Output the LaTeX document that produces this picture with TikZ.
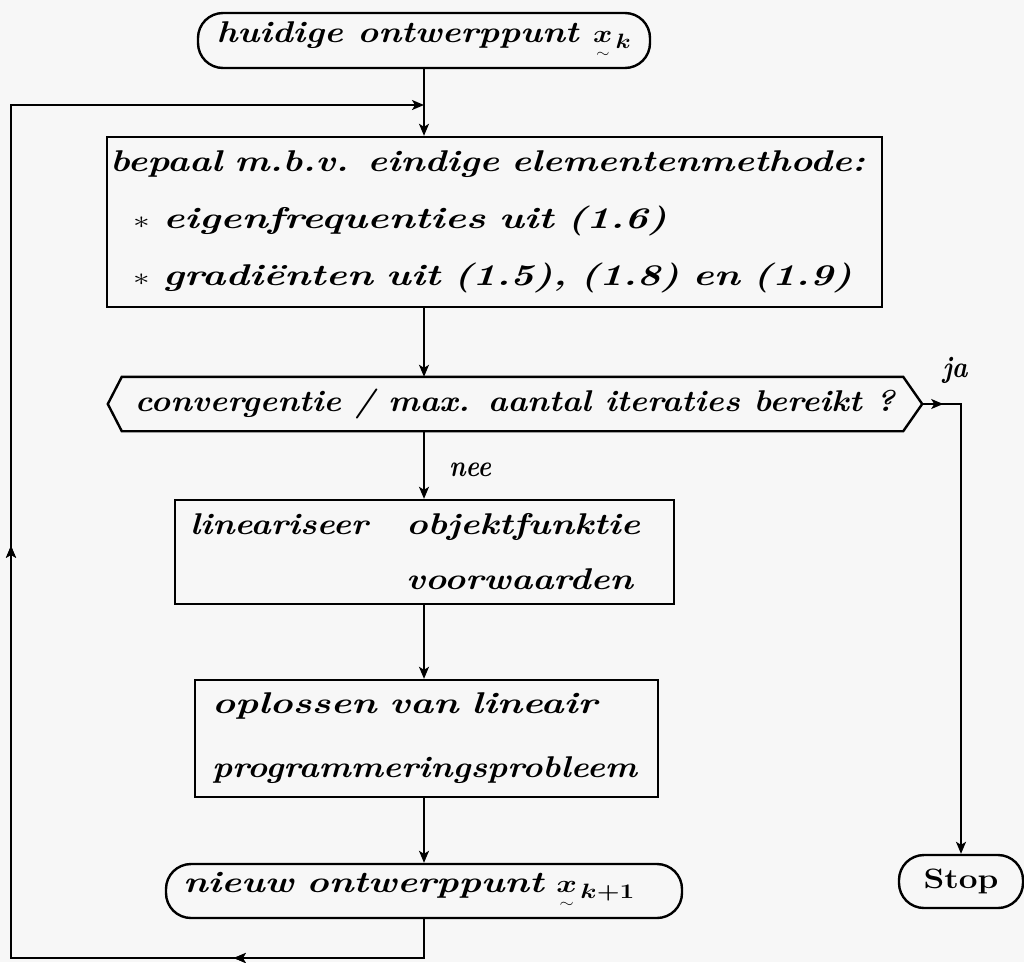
\documentclass[tikz,border=0pt]{standalone}
\usepackage{fontspec}
\usepackage{amsmath}
\usepackage{graphicx}
\usetikzlibrary{arrows.meta,decorations.markings}
\definecolor{paper}{HTML}{F7F7F7}
\newcommand\hwl[2]{\resizebox{#1pt}{\height}{#2}}
\newcommand\vx{\mathord{\underset{\scriptscriptstyle\sim}{\boldsymbol{x}}}}
\tikzset{
  boxline/.style={draw=black, line width=2.4pt},
  stepbox/.style={boxline, rectangle, inner ysep=0pt, align=left},
  termbox/.style={boxline, rectangle, rounded corners=25pt, inner ysep=0pt},
  flow/.style={draw=black, line width=1.7pt},
  tip/.style={-{Stealth[length=12pt,width=10pt,inset=3pt]}},
  hw/.style={font=\fontsize{30}{#1}\selectfont\bfseries\itshape},
  midtip/.style={postaction={decorate}, decoration={markings,
     mark=at position #1 with {\arrow{Stealth[length=12pt,width=10pt,inset=3pt]}}}},
}
\begin{document}
\begin{tikzpicture}[x=1pt,y=-1pt]
\fill[paper] (0,0) rectangle (1024,962);
\useasboundingbox (0,0) rectangle (1024,962);

\coordinate (spine) at (424,0);

% nodes
\node[termbox, hw=36, minimum width=452pt, minimum height=55pt] (T1) at (424,40.5)
  {\hwl{415}{huidige ontwerppunt $\vx\mkern2mu{}_{\boldsymbol{k}}$}};

\node[stepbox, hw=57, minimum width=775pt, minimum height=170pt,
      text width=769pt, inner xsep=3pt] (box1) at (494.5,222)
  {\hwl{755}{bepaal m.b.v. eindige elementenmethode:}\\
   \hspace*{23pt}\hwl{534}{$\ast$ eigenfrequenties uit (1.6)}\\
   \hspace*{23pt}\hwl{719}{$\ast$ gradiënten uit (1.5), (1.8) en (1.9)}};

\node[rectangle, hw=36, minimum width=814pt, minimum height=54pt, inner sep=0pt] (conv) at (515,404)
  {\hwl{760}{convergentie / max. aantal iteraties bereikt ?}};
\draw[boxline, line join=miter] (conv.west) -- ([xshift=14pt]conv.north west) -- ([xshift=-19pt]conv.north east)
  -- (conv.east) -- ([xshift=-19pt]conv.south east) -- ([xshift=14pt]conv.south west) -- cycle;

\node[stepbox, hw=55, minimum width=499pt, minimum height=104pt,
      text width=469pt, inner xsep=15pt] (box2) at (424.5,552)
  {\hwl{178}{lineariseer}\hspace{38pt}\hwl{234}{objektfunktie}\\
   \hspace*{216pt}\hwl{227}{voorwaarden}};

\node[stepbox, hw=64, minimum width=463pt, minimum height=117pt,
      text width=429pt, inner xsep=17pt] (box3) at (426.5,738.5)
  {\hwl{385}{oplossen van lineair}\\
   \hwl{425}{programmeringsprobleem}};

\node[termbox, hw=36, minimum width=516pt, minimum height=54pt,
      text width=482pt, inner xsep=17pt, align=left] (T2) at (424,891)
  {\hwl{452}{nieuw ontwerppunt $\vx\mkern2mu{}_{\boldsymbol{k+1}}$}};

\node[termbox, minimum width=124pt, minimum height=53pt, font=\fontsize{28}{30}\selectfont\bfseries] (stop) at (961,881.5)
  {\resizebox{75pt}{\height}{Stop}};

\node[hw=30, inner sep=0pt] (ja) at (955,370) {\hwl{25}{ja}};
\node[hw=30, inner sep=0pt] (nee) at (470,470) {\hwl{42}{nee}};

% connectors
\draw[flow, tip] (T1.south) -- (spine |- box1.north);
\draw[flow, tip] (spine |- box1.south) -- (spine |- conv.north);
\draw[flow, tip] (spine |- conv.south) -- (spine |- box2.north);
\draw[flow, tip] (spine |- box2.south) -- (spine |- box3.north);
\draw[flow, tip] (spine |- box3.south) -- (T2.north);
\draw[flow, tip, midtip=21pt] (conv.east) -| (stop.north);

\coordinate (bl) at (11,958);
\coordinate (tl) at (11,105);
\draw[flow, tip, line join=miter, midtip=229pt, midtip=864pt]
  (T2.south) -- (spine |- bl) -- (bl) -- (tl) -- (spine |- tl);
\end{tikzpicture}
\end{document}
